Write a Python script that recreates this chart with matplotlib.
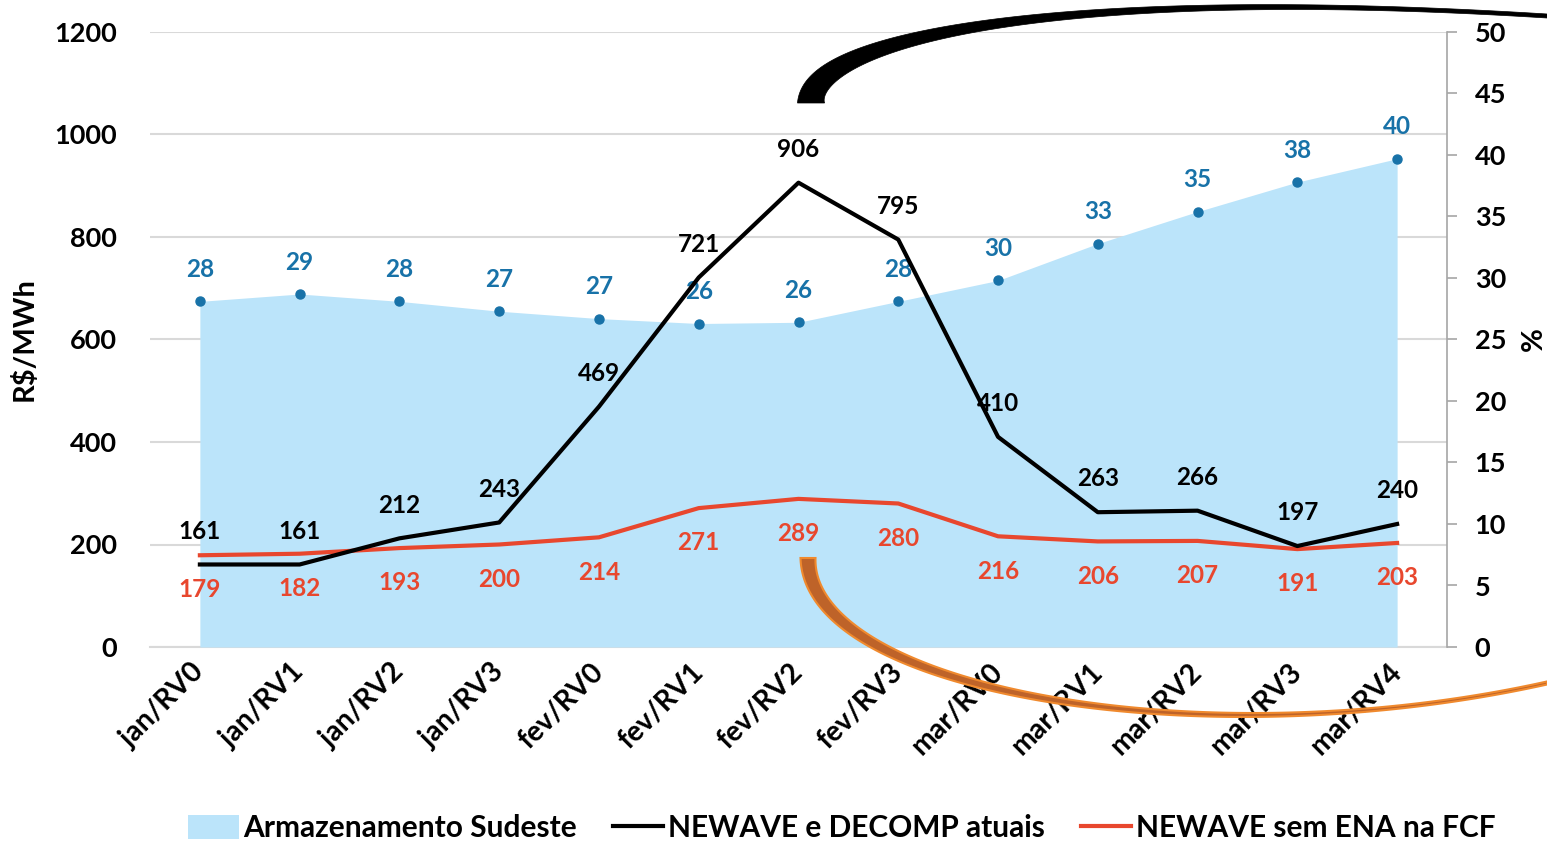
import matplotlib
matplotlib.use('Agg')
import matplotlib.pyplot as plt
import numpy as np
from matplotlib.patches import Patch, Polygon
from matplotlib.lines import Line2D

# dados
semanas = ['jan/RV0', 'jan/RV1', 'jan/RV2', 'jan/RV3', 'fev/RV0', 'fev/RV1', 'fev/RV2',
           'fev/RV3', 'mar/RV0', 'mar/RV1', 'mar/RV2', 'mar/RV3', 'mar/RV4']
armazenamento = [28.1, 28.7, 28.1, 27.3, 26.7, 26.3, 26.4, 28.1, 29.8, 32.8, 35.4, 37.8, 39.7]
cmo_atual = [161, 161, 212, 243, 469, 721, 906, 795, 410, 263, 266, 197, 240]
cmo_sem_ena = [179, 182, 193, 200, 214, 271, 289, 280, 216, 206, 207, 191, 203]

AZUL_AREA = '#BBE4FA'
AZUL = '#1872A8'
VERMELHO = '#E8472E'
CINZA = '#D9D9D9'

plt.rcParams['font.family'] = ['Lato', 'DejaVu Sans']
plt.rcParams['font.weight'] = 'bold'

W, H = 1547, 847
fig = plt.figure(figsize=(W / 100, H / 100), dpi=100)
pos = [150 / W, 1 - 647 / H, 1297 / W, 615 / H]

x = np.arange(len(semanas))

# eixo de baixo: grade + escala R$/MWh
ax = fig.add_axes(pos)
ax.set_xlim(-0.5, len(semanas) - 0.5)
ax.set_ylim(0, 1200)
ax.set_yticks(range(0, 1201, 200))
ax.yaxis.grid(True, color=CINZA, linewidth=1.5)
ax.tick_params(axis='y', length=0, pad=24, labelsize=19.5)
for s in ['top', 'left', 'right']:
    ax.spines[s].set_visible(False)
ax.spines['bottom'].set_color(CINZA)
ax.spines['bottom'].set_linewidth(1.5)
ax.set_xticks(x)
ax.set_xticklabels(semanas, rotation=45, ha='right', va='center', rotation_mode='anchor', fontsize=20.5)
ax.tick_params(axis='x', length=0, pad=15)
ax.set_ylabel('R$/MWh', fontsize=21, fontweight='bold')
ax.yaxis.set_label_coords(-0.087, 0.5)

# eixo da direita: armazenamento (%)
ax2 = ax.twinx()
ax2.set_ylim(0, 50)
ax2.set_yticks(range(0, 51, 5))
ax2.fill_between(x, 0, armazenamento, color=AZUL_AREA, linewidth=0, zorder=1)
ax2.plot(x, armazenamento, 'o', color=AZUL, markersize=6.5, zorder=3)
for xi, v in zip(x, armazenamento):
    ax2.annotate(f'{v:.0f}', (xi, v), xytext=(0, 23), textcoords='offset points',
                 ha='center', va='center', color=AZUL, fontsize=17.5, fontweight='bold')
for s in ['top', 'left', 'bottom']:
    ax2.spines[s].set_visible(False)
ax2.spines['right'].set_color('#A6A6A6')
ax2.spines['right'].set_linewidth(1.2)
ax2.tick_params(axis='y', direction='out', length=7, width=1.2, color='#A6A6A6', pad=13, labelsize=19.5)
ax2.set_ylabel('%', fontsize=21, fontweight='bold')
ax2.yaxis.set_label_coords(1.057, 0.5)
ax2.patch.set_visible(False)

# eixo de cima: linhas de CMO
ax3 = ax.twinx()
ax3.set_ylim(0, 1200)
ax3.axis('off')
ax3.plot(x, cmo_sem_ena, color=VERMELHO, linewidth=3, zorder=4)
ax3.plot(x, cmo_atual, color='black', linewidth=3, zorder=5)
for xi, v in zip(x, cmo_atual):
    ax3.annotate(str(v), (xi, v), xytext=(0, 24), textcoords='offset points',
                 ha='center', va='center', color='black', fontsize=17.5, fontweight='bold')
for xi, v in zip(x, cmo_sem_ena):
    ax3.annotate(str(v), (xi, v), xytext=(0, -25), textcoords='offset points',
                 ha='center', va='center', color=VERMELHO, fontsize=17.5, fontweight='bold')


def seta_curva(p0, p1, p2, p3, w0, w1, **kw):
    # curva de bezier com espessura decrescente, em pixels da figura
    t = np.linspace(0, 1, 200)[:, None]
    P = [np.array(p, float) for p in (p0, p1, p2, p3)]
    c = (1 - t) ** 3 * P[0] + 3 * (1 - t) ** 2 * t * P[1] + 3 * (1 - t) * t ** 2 * P[2] + t ** 3 * P[3]
    d = 3 * (1 - t) ** 2 * (P[1] - P[0]) + 6 * (1 - t) * t * (P[2] - P[1]) + 3 * t ** 2 * (P[3] - P[2])
    d = d / np.linalg.norm(d, axis=1, keepdims=True)
    n = np.column_stack([-d[:, 1], d[:, 0]])
    w = (w1 + (w0 - w1) * (1 - t[:, 0]) ** 2)[:, None] / 2
    pts = np.vstack([c + n * w, (c - n * w)[::-1]])
    pts = np.column_stack([pts[:, 0] / W, 1 - pts[:, 1] / H])
    fig.add_artist(Polygon(pts, closed=True, transform=fig.transFigure, clip_on=False, **kw))


seta_curva((811, 103), (811, 40), (1050, -15), (1547, 16), 27, 4, facecolor='black', edgecolor='black', linewidth=0.5)
seta_curva((808, 558), (808, 690), (1200, 760), (1547, 683), 15, 3, facecolor='#BE6329', edgecolor='#F08A2E', linewidth=1.5)

handles = [Patch(facecolor=AZUL_AREA, edgecolor='none'),
           Line2D([], [], color='black', linewidth=3),
           Line2D([], [], color=VERMELHO, linewidth=3)]
labels = ['Armazenamento Sudeste', 'NEWAVE e DECOMP atuais', 'NEWAVE sem ENA na FCF']
fig.legend(handles, labels, loc='center', bbox_to_anchor=(0.544, 0.022), ncol=3, frameon=False,
           fontsize=21.5, handlelength=1.7, handleheight=0.85, handletextpad=0.15, columnspacing=1.2)

fig.savefig('out.png', dpi=100)
